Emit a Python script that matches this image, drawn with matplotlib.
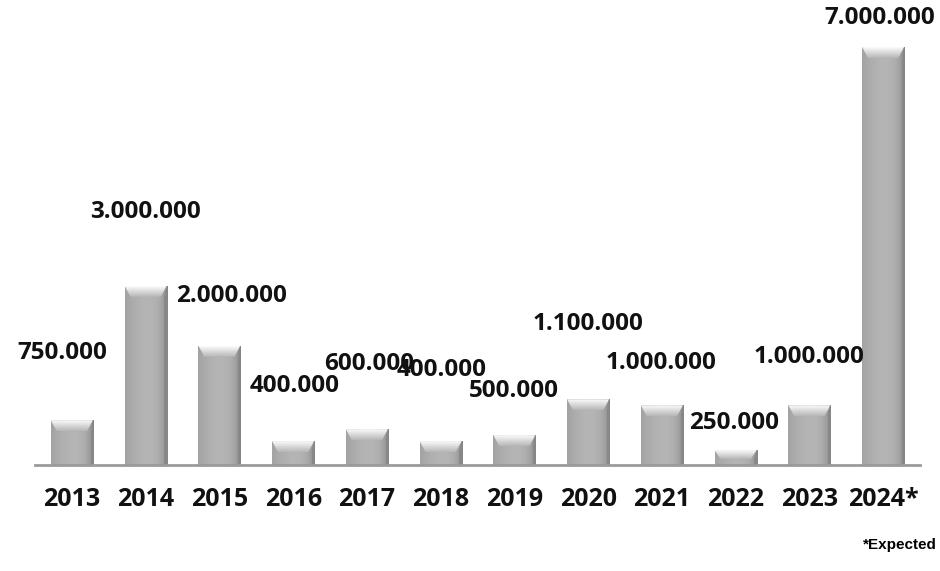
import numpy as np
import matplotlib
matplotlib.use('Agg')
import matplotlib.pyplot as plt
from matplotlib.patches import Polygon

# data
years = ['2013', '2014', '2015', '2016', '2017', '2018', '2019', '2020', '2021', '2022', '2023', '2024*']
values = [750000, 3000000, 2000000, 400000, 600000, 400000, 500000, 1100000, 1000000, 250000, 1000000, 7000000]
labels = ['750.000', '3.000.000', '2.000.000', '400.000', '600.000', '400.000', '500.000',
          '1.100.000', '1.000.000', '250.000', '1.000.000', '7.000.000']
# label offsets from bar top (pixels)
lab_dx = [-10, 0, 12, 1, 2, 1, 0, 0, -1, -2, 0, -3]
lab_dy = [67, 74, 50, 55, 65, 71, 44, 75, 42, 27, 48, 29]

plt.rcParams['font.family'] = ['Open Sans', 'DejaVu Sans']

fig = plt.figure(figsize=(9.4, 5.71), dpi=100)
ax = fig.add_axes([35/940, 106/571, 885/940, 465/571])
ymax = 7e6 * 465 / 418
ax.set_xlim(-0.5, 11.5)
ax.set_ylim(0, ymax)
ax.axis('off')

x = np.arange(len(years))
w = 0.57
bars = ax.bar(x, values, width=w, color='#a9a9a9', edgecolor='none', zorder=2)

# horizontal shading for each bar
grad = np.linspace(0, 1, 64)
shade = 0.64 + 0.07 * np.sin(np.pi * grad * 0.9) - 0.14 * grad ** 8
img = np.dstack([shade, shade, shade]).repeat(2, axis=0)
# vertical gradient for the bevel on top
vg = np.linspace(0.98, 0.72, 16)[:, None] * np.ones((1, 8))
bev_img = np.dstack([vg, vg, vg])
px_per_unit = 418 / 7e6
bev = 11 / px_per_unit
for b, v in zip(bars, values):
    x0 = b.get_x()
    im = ax.imshow(img, extent=[x0, x0 + w, 0, v], aspect='auto', zorder=3, interpolation='bilinear')
    im.set_clip_path(b)
    bh = min(bev, v * 0.6)
    inset = w * 0.14
    top = Polygon([[x0, v], [x0 + w, v], [x0 + w - inset, v - bh], [x0 + inset, v - bh]],
                  closed=True, facecolor='none', edgecolor='none', zorder=4)
    ax.add_patch(top)
    bi = ax.imshow(bev_img, extent=[x0, x0 + w, v - bh, v], aspect='auto', zorder=4,
                   interpolation='bilinear')
    bi.set_clip_path(top)
    ax.add_patch(Polygon([[x0 + w, v], [x0 + w, 0], [x0 + w - 0.03, 0], [x0 + w - 0.03, v - bh]],
                         closed=True, facecolor='#888888', edgecolor='none', zorder=4))

ax.set_xlim(-0.5, 11.5)
ax.set_ylim(0, ymax)
ax.plot([-0.5, 11.5], [0, 0], color='#9a9a9a', lw=2, zorder=5, clip_on=False)

for i, v in enumerate(values):
    ax.annotate(labels[i], (x[i], v), xytext=(lab_dx[i], lab_dy[i]), textcoords='offset pixels',
                ha='center', va='center', fontsize=17.5, fontweight='bold', color='#111111',
                annotation_clip=False, zorder=6)
    ax.annotate(years[i], (x[i], 0), xytext=(0, -35), textcoords='offset pixels',
                ha='center', va='center', fontsize=18, fontweight='bold', color='#111111',
                annotation_clip=False)

fig.text(937/940, 1 - 545/571, '*Expected', ha='right', va='center', fontsize=11,
         fontweight='bold', family=['Liberation Sans', 'DejaVu Sans'])

fig.savefig('out.png', dpi=100, facecolor='white')
